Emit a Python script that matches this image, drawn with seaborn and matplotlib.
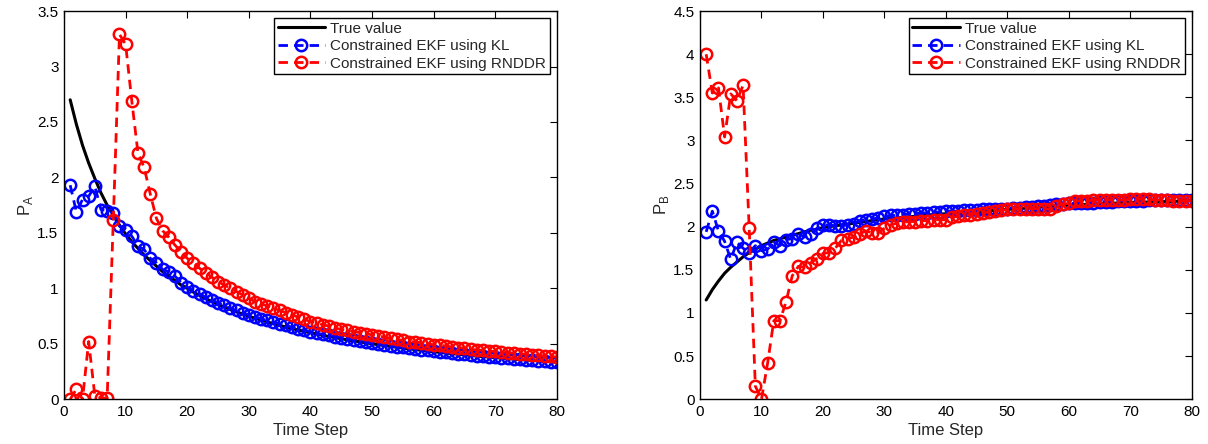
import matplotlib
matplotlib.use("Agg")
import matplotlib.pyplot as plt
import seaborn as sns
import numpy as np

time_steps = list(range(1, 81))

# Left panel: P_A
true_A = [2.70, 2.48, 2.29, 2.13, 1.99, 1.86, 1.75, 1.66, 1.57, 1.49,
          1.42, 1.36, 1.30, 1.25, 1.20, 1.15, 1.11, 1.07, 1.03, 1.00,
          0.965, 0.935, 0.907, 0.880, 0.855, 0.831, 0.809, 0.788, 0.767, 0.748,
          0.730, 0.713, 0.696, 0.681, 0.665, 0.651, 0.637, 0.624, 0.611, 0.599,
          0.588, 0.576, 0.565, 0.555, 0.545, 0.535, 0.526, 0.517, 0.508, 0.500,
          0.491, 0.483, 0.476, 0.468, 0.461, 0.454, 0.447, 0.441, 0.434, 0.428,
          0.422, 0.416, 0.411, 0.405, 0.400, 0.394, 0.389, 0.384, 0.380, 0.375,
          0.370, 0.366, 0.361, 0.357, 0.353, 0.349, 0.345, 0.341, 0.337, 0.333]
kl_A = [1.93, 1.69, 1.80, 1.83, 1.92, 1.71, 1.70, 1.68, 1.56, 1.53,
        1.47, 1.38, 1.35, 1.27, 1.23, 1.17, 1.15, 1.11, 1.05, 1.01,
        0.98, 0.95, 0.92, 0.895, 0.87, 0.845, 0.82, 0.80, 0.78, 0.76,
        0.745, 0.725, 0.71, 0.695, 0.68, 0.665, 0.65, 0.635, 0.62, 0.61,
        0.595, 0.585, 0.575, 0.565, 0.555, 0.545, 0.535, 0.525, 0.515, 0.505,
        0.497, 0.489, 0.481, 0.473, 0.466, 0.459, 0.452, 0.445, 0.439, 0.433,
        0.427, 0.421, 0.415, 0.409, 0.404, 0.398, 0.393, 0.388, 0.383, 0.378,
        0.373, 0.368, 0.364, 0.359, 0.355, 0.351, 0.347, 0.343, 0.339, 0.335]
rnddr_A = [0.0, 0.09, 0.0, 0.52, 0.03, 0.01, 0.01, 1.62, 3.29, 3.20,
           2.69, 2.22, 2.09, 1.85, 1.63, 1.52, 1.46, 1.39, 1.33, 1.27,
           1.23, 1.18, 1.14, 1.10, 1.06, 1.03, 1.00, 0.97, 0.94, 0.91,
           0.88, 0.86, 0.84, 0.82, 0.80, 0.78, 0.76, 0.74, 0.72, 0.70,
           0.69, 0.67, 0.66, 0.64, 0.63, 0.62, 0.61, 0.60, 0.59, 0.58,
           0.57, 0.56, 0.55, 0.54, 0.53, 0.52, 0.515, 0.51, 0.50, 0.49,
           0.485, 0.48, 0.47, 0.465, 0.46, 0.45, 0.445, 0.44, 0.435, 0.43,
           0.425, 0.42, 0.415, 0.41, 0.405, 0.40, 0.395, 0.39, 0.385, 0.38]

# Right panel: P_B
true_B = [1.15, 1.27, 1.37, 1.46, 1.53, 1.59, 1.65, 1.70, 1.74, 1.78,
          1.81, 1.84, 1.86, 1.88, 1.90, 1.92, 1.94, 1.96, 1.97, 1.99,
          2.00, 2.01, 2.02, 2.03, 2.04, 2.05, 2.06, 2.07, 2.08, 2.09,
          2.095, 2.10, 2.11, 2.115, 2.12, 2.13, 2.135, 2.14, 2.145, 2.15,
          2.155, 2.16, 2.165, 2.17, 2.175, 2.18, 2.185, 2.19, 2.195, 2.20,
          2.205, 2.21, 2.215, 2.22, 2.225, 2.23, 2.235, 2.24, 2.245, 2.25,
          2.253, 2.256, 2.259, 2.262, 2.265, 2.268, 2.271, 2.274, 2.277, 2.28,
          2.282, 2.284, 2.286, 2.288, 2.29, 2.292, 2.294, 2.296, 2.298, 2.30]
kl_B = [1.94, 2.18, 1.95, 1.83, 1.62, 1.82, 1.75, 1.70, 1.78, 1.72,
        1.74, 1.82, 1.78, 1.85, 1.86, 1.92, 1.88, 1.92, 1.98, 2.02,
        2.02, 2.01, 2.01, 2.02, 2.03, 2.07, 2.08, 2.09, 2.10, 2.12,
        2.13, 2.13, 2.14, 2.15, 2.15, 2.16, 2.16, 2.17, 2.17, 2.18,
        2.18, 2.18, 2.19, 2.19, 2.19, 2.20, 2.20, 2.20, 2.21, 2.21,
        2.22, 2.22, 2.23, 2.23, 2.24, 2.24, 2.25, 2.26, 2.26, 2.27,
        2.27, 2.28, 2.28, 2.28, 2.29, 2.29, 2.29, 2.30, 2.30, 2.30,
        2.30, 2.30, 2.31, 2.31, 2.31, 2.31, 2.31, 2.31, 2.31, 2.31]
rnddr_B = [4.00, 3.55, 3.61, 3.04, 3.54, 3.46, 3.64, 1.98, 0.15, 0.00,
           0.42, 0.91, 0.91, 1.13, 1.43, 1.54, 1.53, 1.58, 1.63, 1.69,
           1.70, 1.75, 1.84, 1.86, 1.88, 1.92, 1.95, 1.93, 1.93, 1.98,
           2.02, 2.04, 2.05, 2.06, 2.06, 2.07, 2.07, 2.08, 2.08, 2.08,
           2.11, 2.12, 2.13, 2.14, 2.15, 2.16, 2.17, 2.18, 2.19, 2.20,
           2.20, 2.21, 2.21, 2.21, 2.21, 2.21, 2.20, 2.24, 2.26, 2.27,
           2.30, 2.30, 2.30, 2.31, 2.31, 2.31, 2.31, 2.31, 2.31, 2.32,
           2.32, 2.32, 2.32, 2.31, 2.31, 2.31, 2.30, 2.30, 2.30, 2.30]

labels = ["True value", "Constrained EKF using KL", "Constrained EKF using RNDDR"]
y_ticks_A = [0, 0.5, 1, 1.5, 2, 2.5, 3, 3.5]
y_ticks_B = [0, 0.5, 1, 1.5, 2, 2.5, 3, 3.5, 4, 4.5]
x_ticks = [0, 10, 20, 30, 40, 50, 60, 70, 80]

sns.set_style("white")
plt.rcParams['font.family'] = ['Liberation Sans', 'DejaVu Sans']

fig = plt.figure(figsize=(12.08, 4.44), dpi=100)
ax1 = fig.add_axes([0.053, 0.101, 0.408, 0.874])
ax2 = fig.add_axes([0.5795, 0.101, 0.407, 0.874])


def draw(ax, true_v, kl_v, rn_v, yticks, ylabel):
    sns.lineplot(x=time_steps, y=true_v, ax=ax, color="black", linewidth=2.2,
                 label=labels[0], estimator=None)
    sns.lineplot(x=time_steps, y=kl_v, ax=ax, color="#0000ff", linewidth=2.0,
                 linestyle=(0, (3.4, 2.2)), marker="o", markersize=8.2,
                 markerfacecolor="none", markeredgecolor="#0000ff",
                 markeredgewidth=1.8, label=labels[1], estimator=None)
    sns.lineplot(x=time_steps, y=rn_v, ax=ax, color="#ff0000", linewidth=2.0,
                 linestyle=(0, (3.4, 2.2)), marker="o", markersize=8.2,
                 markerfacecolor="none", markeredgecolor="#ff0000",
                 markeredgewidth=1.8, label=labels[2], estimator=None)
    ax.set_xlim(0, 80)
    ax.set_ylim(yticks[0], yticks[-1])
    ax.set_xticks(x_ticks)
    ax.set_yticks(yticks)
    ax.set_yticklabels([("%g" % v) for v in yticks])
    ax.tick_params(direction="in", top=True, right=True, length=5,
                   width=0.8, labelsize=11, colors="black", pad=4)
    for s in ax.spines.values():
        s.set_visible(True)
        s.set_color("black")
        s.set_linewidth(1.0)
    ax.set_xlabel("Time Step", fontsize=12, labelpad=3)
    ax.set_ylabel(ylabel, fontsize=12, labelpad=2)
    leg = ax.legend(loc="upper right", fontsize=11, frameon=True,
                    fancybox=False, edgecolor="black", framealpha=1,
                    handlelength=3.1, borderpad=0.25, labelspacing=0.22,
                    handletextpad=0.35, borderaxespad=0.45)
    leg.get_frame().set_linewidth(1.0)


draw(ax1, true_A, kl_A, rnddr_A, y_ticks_A, r"P$_\mathregular{A}$")
draw(ax2, true_B, kl_B, rnddr_B, y_ticks_B, r"P$_\mathregular{B}$")

fig.savefig("out.png", dpi=100)
